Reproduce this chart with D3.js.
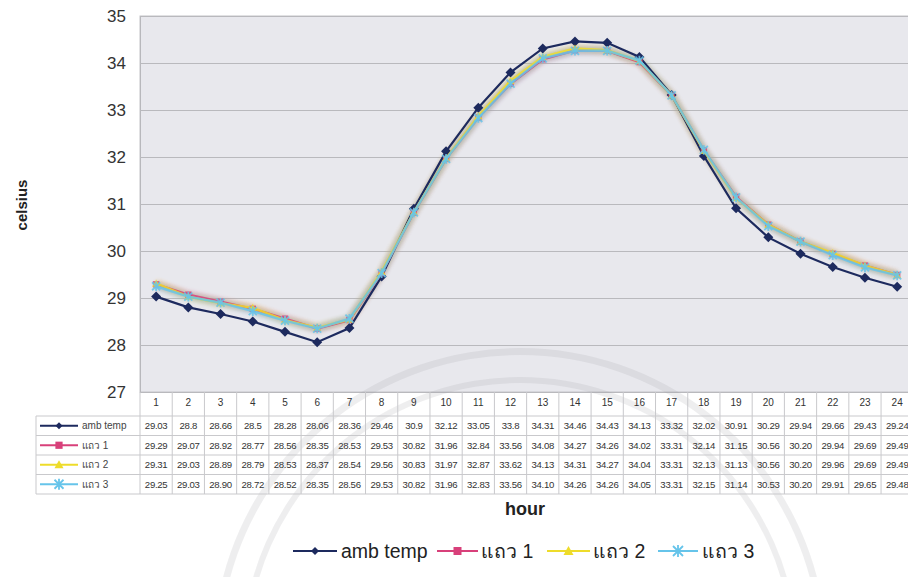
<!DOCTYPE html>
<html>
<head>
<meta charset="utf-8">
<script src="https://cdn.jsdelivr.net/npm/d3@7/dist/d3.min.js"></script>
<style>
  html, body { margin: 0; padding: 0; background: #fff; }
  svg { display: block; font-family: "Liberation Sans", Arial, "Noto Sans", sans-serif; }
</style>
</head>
<body>
<svg id="chart" width="908" height="577"></svg>
<script>
// Hourly temperatures (°C)
const hours = d3.range(1, 25);
const ambTemp = [29.03, 28.8, 28.66, 28.5, 28.28, 28.06, 28.36, 29.46, 30.9, 32.12, 33.05, 33.8,
                 34.31, 34.46, 34.43, 34.13, 33.32, 32.02, 30.91, 30.29, 29.94, 29.66, 29.43, 29.24];
const row1 = [29.29, 29.07, 28.92, 28.77, 28.56, 28.35, 28.53, 29.53, 30.82, 31.96, 32.84, 33.56,
              34.08, 34.27, 34.26, 34.02, 33.31, 32.14, 31.15, 30.56, 30.20, 29.94, 29.69, 29.49];
const row2 = [29.31, 29.03, 28.89, 28.79, 28.53, 28.37, 28.54, 29.56, 30.83, 31.97, 32.87, 33.62,
              34.13, 34.31, 34.27, 34.04, 33.31, 32.13, 31.13, 30.56, 30.20, 29.96, 29.69, 29.49];
const row3 = [29.25, 29.03, 28.90, 28.72, 28.52, 28.35, 28.56, 29.53, 30.82, 31.96, 32.83, 33.56,
              34.10, 34.26, 34.26, 34.05, 33.31, 32.15, 31.14, 30.53, 30.20, 29.91, 29.65, 29.48];
const seriesNames = ["amb temp", "แถว 1", "แถว 2", "แถว 3"];
const yTicks = [27, 28, 29, 30, 31, 32, 33, 34, 35];

const series = [
  { name: seriesNames[0], values: ambTemp, color: "#1d2a5e", marker: "diamond", fmt: d => String(d) },
  { name: seriesNames[1], values: row1, color: "#d8407a", marker: "square", fmt: d => d.toFixed(2) },
  { name: seriesNames[2], values: row2, color: "#eedc2a", marker: "triangle", fmt: d => d.toFixed(2) },
  { name: seriesNames[3], values: row3, color: "#66c4ea", marker: "star", fmt: d => d.toFixed(2) }
];

const svg = d3.select("#chart");
const defs = svg.append("defs");
defs.append("filter").attr("id", "soft").attr("x", "-10%").attr("y", "-10%").attr("width", "120%").attr("height", "120%")
  .append("feGaussianBlur").attr("stdDeviation", 2.2);

const plotLeft = 140, colW = 32.22, plotTop = 16, plotBottom = 392;
const plotRight = plotLeft + colW * hours.length;

const xBand = d3.scaleBand().domain(hours).range([plotLeft, plotRight]).padding(0);
const xc = h => xBand(h) + xBand.bandwidth() / 2;
const y = d3.scaleLinear().domain([27, 35]).range([plotBottom, plotTop]);

// plot background
svg.append("rect").attr("x", plotLeft).attr("y", plotTop)
  .attr("width", plotRight - plotLeft).attr("height", plotBottom - plotTop)
  .attr("fill", "#e8e8ed").attr("stroke", "#c4c4c8");

// horizontal gridlines + y labels
const yAxis = d3.axisLeft(y).tickValues(yTicks).tickSize(-(plotRight - plotLeft)).tickPadding(14);
const gy = svg.append("g").attr("transform", `translate(${plotLeft},0)`).call(yAxis);
gy.select(".domain").attr("stroke", "#b8b8bc");
gy.selectAll(".tick line").attr("stroke", "#b9b9bd").attr("stroke-width", 1);
gy.selectAll(".tick text").attr("font-size", 17).attr("fill", "#333").attr("x", -14);

svg.append("text").attr("transform", "translate(27,205) rotate(-90)")
  .attr("text-anchor", "middle").attr("font-size", 15).attr("font-weight", "bold")
  .attr("fill", "#222").text("celsius");

// faint round seal in the background
const seal = svg.append("g").attr("fill", "none").attr("stroke", "#9a9aa0").attr("opacity", 0.16);
[[300, 7], [272, 6]].forEach(([r, w]) => {
  seal.append("path")
    .attr("d", d3.arc().innerRadius(r).outerRadius(r + w).startAngle(-Math.PI * 0.42).endAngle(Math.PI * 0.42)())
    .attr("transform", "translate(520,655)").attr("fill", "#9a9aa0").attr("stroke", "none");
});

// category row + data table
const tableLeft = 36, rowTop = 416, rowH = 19.5;
const gt = svg.append("g");
gt.selectAll("text.hour").data(hours).join("text").attr("class", "hour")
  .attr("x", d => xc(d)).attr("y", 406).attr("text-anchor", "middle")
  .attr("font-size", 10).attr("fill", "#333").text(d => d);
gt.selectAll("line.col").data(hours).join("line").attr("class", "col")
  .attr("x1", d => xBand(d)).attr("x2", d => xBand(d))
  .attr("y1", plotBottom).attr("y2", rowTop + rowH * 4)
  .attr("stroke", "#c9c9cc");
gt.selectAll("line.row").data(d3.range(5)).join("line").attr("class", "row")
  .attr("x1", tableLeft).attr("x2", plotRight)
  .attr("y1", i => rowTop + i * rowH).attr("y2", i => rowTop + i * rowH)
  .attr("stroke", "#c9c9cc");
gt.append("line").attr("x1", tableLeft).attr("x2", tableLeft)
  .attr("y1", rowTop).attr("y2", rowTop + rowH * 4).attr("stroke", "#c9c9cc");

function drawMarker(g, type, color, s) {
  if (type === "diamond") {
    g.append("path").attr("d", `M0,${-s}L${s},0L0,${s}L${-s},0Z`).attr("fill", color);
  } else if (type === "square") {
    g.append("rect").attr("x", -s * 0.8).attr("y", -s * 0.8).attr("width", s * 1.6).attr("height", s * 1.6).attr("fill", color);
  } else if (type === "triangle") {
    g.append("path").attr("d", `M0,${-s}L${s},${s * 0.8}L${-s},${s * 0.8}Z`).attr("fill", color);
  } else {
    const p = `M${-s},${-s}L${s},${s}M${-s},${s}L${s},${-s}M0,${-s * 1.2}L0,${s * 1.2}`;
    g.append("path").attr("d", p).attr("stroke", color).attr("stroke-width", 1.8).attr("fill", "none");
  }
}

series.forEach((s, i) => {
  const cy = rowTop + i * rowH + rowH / 2;
  const key = gt.append("g");
  key.append("line").attr("x1", 40).attr("x2", 78).attr("y1", cy).attr("y2", cy)
    .attr("stroke", s.color).attr("stroke-width", 2);
  drawMarker(key.append("g").attr("transform", `translate(59,${cy})`), s.marker, s.color, i === 0 ? 3.5 : 4.5);
  key.append("text").attr("x", 82).attr("y", cy + 3.5).attr("font-size", 10).attr("fill", "#444").text(s.name);
  gt.selectAll(null).data(s.values).join("text")
    .attr("x", (d, j) => xc(hours[j])).attr("y", cy + 3.5).attr("text-anchor", "middle")
    .attr("font-size", 9.6).attr("letter-spacing", -0.3).attr("fill", "#333").text(d => s.fmt(d));
});

svg.append("text").attr("x", 525).attr("y", 515).attr("text-anchor", "middle")
  .attr("font-size", 18).attr("font-weight", "bold").attr("fill", "#222").text("hour");

// series lines
const line = d3.line().x((d, j) => xc(hours[j])).y(d => y(d));
// soft colour halo around the three row series
[1, 2, 3].forEach(i => {
  svg.append("path").datum(series[i].values).attr("d", line).attr("fill", "none")
    .attr("stroke", series[i].color).attr("stroke-width", 7).attr("opacity", 0.35)
    .attr("filter", "url(#soft)");
});
const drawOrder = [0, 1, 2, 3];
drawOrder.forEach(i => {
  const s = series[i];
  svg.append("path").datum(s.values).attr("d", line).attr("fill", "none")
    .attr("stroke", s.color).attr("stroke-width", i === 0 ? 2.2 : 2.4).attr("opacity", i === 0 ? 1 : 0.85);
  const gm = svg.append("g").attr("opacity", i === 0 ? 1 : 0.85);
  s.values.forEach((v, j) => {
    drawMarker(gm.append("g").attr("transform", `translate(${xc(hours[j])},${y(v)})`), s.marker, s.color, i === 0 ? 5 : 4);
  });
});

// legend
const legend = [
  { x1: 293, x2: 337, tx: 341 },
  { x1: 437, x2: 478, tx: 481 },
  { x1: 547, x2: 590, tx: 593 },
  { x1: 658, x2: 698, tx: 702 }
];
series.forEach((s, i) => {
  const L = legend[i], cy = 551;
  const g = svg.append("g");
  g.append("line").attr("x1", L.x1).attr("x2", L.x2).attr("y1", cy).attr("y2", cy)
    .attr("stroke", s.color).attr("stroke-width", 2);
  drawMarker(g.append("g").attr("transform", `translate(${(L.x1 + L.x2) / 2},${cy})`), s.marker, s.color, i === 0 ? 4 : 5);
  g.append("text").attr("x", L.tx).attr("y", cy + 7).attr("font-size", 19.5).attr("fill", "#222").text(s.name);
});
</script>
</body>
</html>
